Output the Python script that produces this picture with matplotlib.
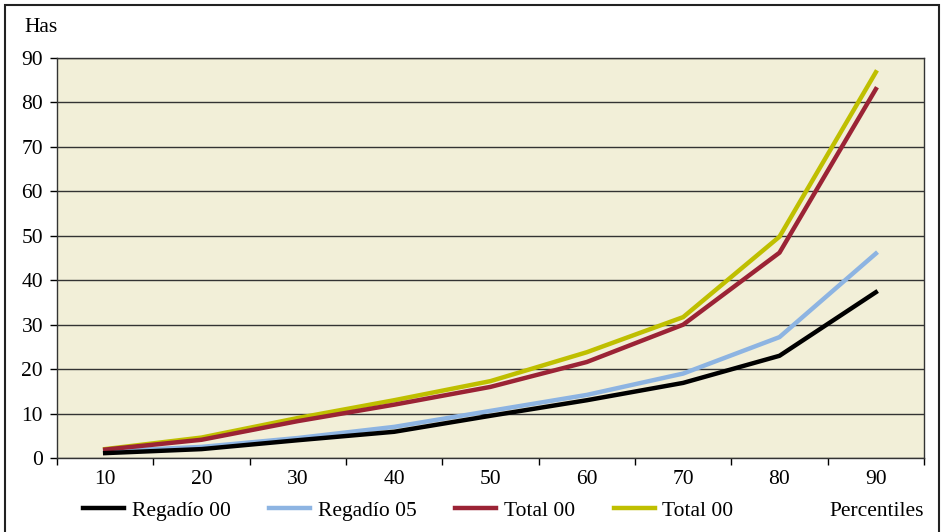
import matplotlib.pyplot as plt
from matplotlib.patches import Rectangle

percentiles = [10, 20, 30, 40, 50, 60, 70, 80, 90]
regadio_00 = [1.1, 2.0, 4.0, 5.9, 9.5, 13.0, 16.9, 23.0, 37.3]
regadio_05 = [1.5, 2.5, 4.5, 7.0, 10.6, 14.2, 19.0, 27.2, 46.0]
total_00 = [1.9, 4.1, 8.3, 12.0, 16.0, 21.6, 30.0, 46.2, 83.0]
total_00b = [2.0, 4.6, 9.0, 13.0, 17.3, 23.8, 31.7, 49.8, 86.8]

plt.rcParams['font.family'] = ['Liberation Serif', 'DejaVu Serif']
FS = 15.5

W, H = 942, 532
fig = plt.figure(figsize=(W / 100, H / 100), dpi=100)
ax = fig.add_axes([57 / W, 1 - 458 / H, (924 - 57) / W, (458 - 58) / H])
ax.set_facecolor('#F2EFD8')

x = list(range(len(percentiles)))
ax.plot(x, regadio_00, color='black', lw=3.2, label='Regadío 00', zorder=4)
ax.plot(x, regadio_05, color='#8DB4E2', lw=3.2, label='Regadío 05', zorder=3)
ax.plot(x, total_00, color='#9B2335', lw=3.2, label='Total 00', zorder=3)
ax.plot(x, total_00b, color='#BFBF00', lw=3.2, label='Total 00', zorder=2)

ax.set_xlim(-0.5, len(percentiles) - 0.5)
ax.set_ylim(0, 90)
ax.set_yticks(range(0, 91, 10))
ax.set_xticks(x)
ax.set_xticklabels([str(p) for p in percentiles])
ax.set_xticks([i - 0.5 for i in range(len(percentiles) + 1)], minor=True)
ax.tick_params(axis='x', which='major', length=0, pad=9, labelsize=FS)
ax.tick_params(axis='x', which='minor', length=5, width=1, direction='out')
ax.tick_params(axis='y', length=5, width=1, labelsize=FS, pad=5)
ax.grid(axis='y', color='#333333', lw=1)
ax.set_axisbelow(True)
for s in ax.spines.values():
    s.set_color('#333333')
    s.set_linewidth(1)

fig.text(24 / W, 1 - 28 / H, 'Has', fontsize=FS, va='center', ha='left')
fig.text(924 / W, 1 - 511 / H, 'Percentiles', fontsize=FS, va='center', ha='right')
fig.legend(loc='center left', bbox_to_anchor=(64 / W, 1 - 511 / H), ncol=4,
           frameon=False, fontsize=FS, handlelength=1.9, columnspacing=1.8,
           handletextpad=0.35)

# outer frame
fig.patches.append(Rectangle((5 / W, -0.05), 934 / W, 1.05 - 5 / H,
                             transform=fig.transFigure, fill=False,
                             edgecolor='#222222', lw=1.5))

fig.savefig('out.png', dpi=100)
